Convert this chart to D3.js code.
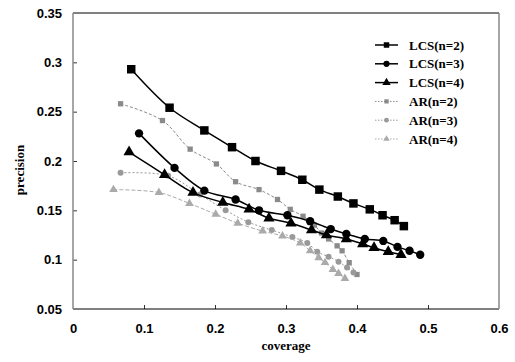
<!DOCTYPE html>
<html><head><meta charset="utf-8">
<script src="https://cdn.jsdelivr.net/npm/d3@7"></script>
<style>body{margin:0;background:#fff}</style>
</head><body><div id="chart"></div>
<script>
const xTicks = [0, 0.1, 0.2, 0.3, 0.4, 0.5, 0.6];
const yTicks = [0.05, 0.1, 0.15, 0.2, 0.25, 0.3, 0.35];
const seriesNames = ["LCS(n=2)", "LCS(n=3)", "LCS(n=4)", "AR(n=2)", "AR(n=3)", "AR(n=4)"];

const lcs2X = [0.082, 0.136, 0.185, 0.224, 0.257, 0.293, 0.323, 0.347, 0.373, 0.395, 0.418, 0.436, 0.453, 0.466];
const lcs2Y = [0.293, 0.254, 0.231, 0.214, 0.200, 0.190, 0.181, 0.171, 0.164, 0.157, 0.151, 0.145, 0.140, 0.134];
const lcs3X = [0.093, 0.143, 0.185, 0.229, 0.262, 0.302, 0.334, 0.363, 0.385, 0.411, 0.437, 0.457, 0.474, 0.489];
const lcs3Y = [0.228, 0.193, 0.170, 0.161, 0.150, 0.145, 0.139, 0.131, 0.126, 0.121, 0.119, 0.113, 0.109, 0.105];
const lcs4X = [0.079, 0.129, 0.169, 0.211, 0.248, 0.276, 0.307, 0.336, 0.357, 0.385, 0.408, 0.424, 0.444, 0.462];
const lcs4Y = [0.209, 0.186, 0.168, 0.158, 0.151, 0.142, 0.137, 0.130, 0.125, 0.121, 0.116, 0.112, 0.108, 0.105];
const ar2X = [0.067, 0.126, 0.165, 0.202, 0.229, 0.262, 0.288, 0.306, 0.324, 0.340, 0.350, 0.360, 0.372, 0.379, 0.389, 0.400];
const ar2Y = [0.258, 0.241, 0.212, 0.197, 0.179, 0.171, 0.161, 0.151, 0.144, 0.135, 0.127, 0.121, 0.114, 0.109, 0.097, 0.085];
const ar3X = [0.067, 0.134, 0.179, 0.215, 0.247, 0.280, 0.309, 0.330, 0.344, 0.360, 0.374, 0.386, 0.395];
const ar3Y = [0.188, 0.185, 0.166, 0.150, 0.138, 0.130, 0.123, 0.117, 0.108, 0.103, 0.098, 0.092, 0.087];
const ar4X = [0.057, 0.121, 0.164, 0.201, 0.232, 0.267, 0.295, 0.320, 0.334, 0.346, 0.355, 0.366, 0.374, 0.383];
const ar4Y = [0.171, 0.168, 0.157, 0.146, 0.137, 0.129, 0.124, 0.117, 0.109, 0.102, 0.097, 0.090, 0.086, 0.081];

const W = 515, H = 362;
const svg = d3.select("#chart").append("svg").attr("width", W).attr("height", H)
  .style("background", "#fff");

const x = d3.scaleLinear().domain([0, 0.6]).range([73, 499]);
const y = d3.scaleLinear().domain([0.05, 0.35]).range([309, 13]);
const fmt = d => String(+d.toFixed(2));

// axes
const gx = svg.append("g").attr("transform", "translate(0,309)")
  .call(d3.axisBottom(x).tickValues(xTicks).tickSize(-4).tickPadding(15).tickFormat(fmt));
const gy = svg.append("g").attr("transform", "translate(73,0)")
  .call(d3.axisLeft(y).tickValues(yTicks).tickSize(-4).tickPadding(11).tickFormat(fmt));
[gx, gy].forEach(g => {
  g.select(".domain").remove();
  g.selectAll("text").style("font-family", "Liberation Sans, Arial, sans-serif")
    .style("font-weight", "bold").style("font-size", "13px").attr("fill", "#000");
  g.selectAll("line").attr("stroke", "#333");
});
gx.selectAll(".tick").filter(d => d === 0 || d === 0.6).select("line").remove();
gy.selectAll(".tick").filter(d => d === 0.05 || d === 0.35).select("line").remove();

// frame
svg.append("line").attr("x1", 73).attr("x2", 499).attr("y1", 13).attr("y2", 13).attr("stroke", "#000");
svg.append("line").attr("x1", 73).attr("x2", 499).attr("y1", 309).attr("y2", 309).attr("stroke", "#000");
svg.append("line").attr("x1", 73).attr("x2", 73).attr("y1", 13).attr("y2", 309).attr("stroke", "#888").attr("stroke-width", 1.5);
svg.append("line").attr("x1", 499).attr("x2", 499).attr("y1", 13).attr("y2", 309).attr("stroke", "#888").attr("stroke-width", 1.5);

// axis titles
svg.append("text").attr("x", 286).attr("y", 350).attr("text-anchor", "middle")
  .style("font-family", "Liberation Serif, Times New Roman, serif").style("font-weight", "bold")
  .style("font-size", "13px").text("coverage");
svg.append("text").attr("transform", "translate(24,170) rotate(-90)").attr("text-anchor", "middle")
  .style("font-family", "Liberation Serif, Times New Roman, serif").style("font-weight", "bold")
  .style("font-size", "13px").text("precision");

const series = [
  {name: seriesNames[0], xs: lcs2X, ys: lcs2Y, color: "#000", dash: null, sym: d3.symbolSquare, size: 72, width: 1.5},
  {name: seriesNames[1], xs: lcs3X, ys: lcs3Y, color: "#000", dash: null, sym: d3.symbolCircle, size: 55, width: 1.5},
  {name: seriesNames[2], xs: lcs4X, ys: lcs4Y, color: "#000", dash: null, sym: d3.symbolTriangle, size: 55, width: 1.5},
  {name: seriesNames[3], xs: ar2X, ys: ar2Y, color: "#8a8a8a", dash: "3,2", sym: d3.symbolSquare, size: 28, width: 1},
  {name: seriesNames[4], xs: ar3X, ys: ar3Y, color: "#999", dash: "2,2", sym: d3.symbolCircle, size: 28, width: 1},
  {name: seriesNames[5], xs: ar4X, ys: ar4Y, color: "#aaa", dash: "4,2", sym: d3.symbolTriangle, size: 32, width: 1}
];

const line = d3.line().x(d => x(d[0])).y(d => y(d[1])).curve(d3.curveCatmullRom.alpha(0.5));

// draw AR first then LCS on top
const order = [3, 4, 5, 0, 1, 2];
order.forEach(i => {
  const s = series[i];
  const pts = s.xs.map((v, k) => [v, s.ys[k]]);
  svg.append("path").datum(pts).attr("d", line).attr("fill", "none")
    .attr("stroke", s.color).attr("stroke-width", s.width)
    .attr("stroke-dasharray", s.dash);
  svg.append("g").selectAll("path").data(pts).join("path")
    .attr("transform", d => `translate(${x(d[0])},${y(d[1])})`)
    .attr("d", d3.symbol().type(s.sym).size(s.size))
    .attr("fill", s.color);
});

// legend
const lg = svg.append("g");
series.forEach((s, i) => {
  const cy = 45 + i * 18.8;
  lg.append("line").attr("x1", 375).attr("x2", 398).attr("y1", cy).attr("y2", cy)
    .attr("stroke", s.color).attr("stroke-width", s.width)
    .attr("stroke-dasharray", s.dash ? "1.5,1.5" : null);
  lg.append("path").attr("transform", `translate(386.5,${cy})`)
    .attr("d", d3.symbol().type(s.sym).size(i < 3 ? 30 : 18)).attr("fill", s.color);
  lg.append("text").attr("x", 409).attr("y", cy).attr("dy", "0.35em")
    .style("font-family", "Liberation Serif, Times New Roman, serif").style("font-weight", "bold")
    .style("font-size", "13px").text(s.name);
});
</script></body></html>
